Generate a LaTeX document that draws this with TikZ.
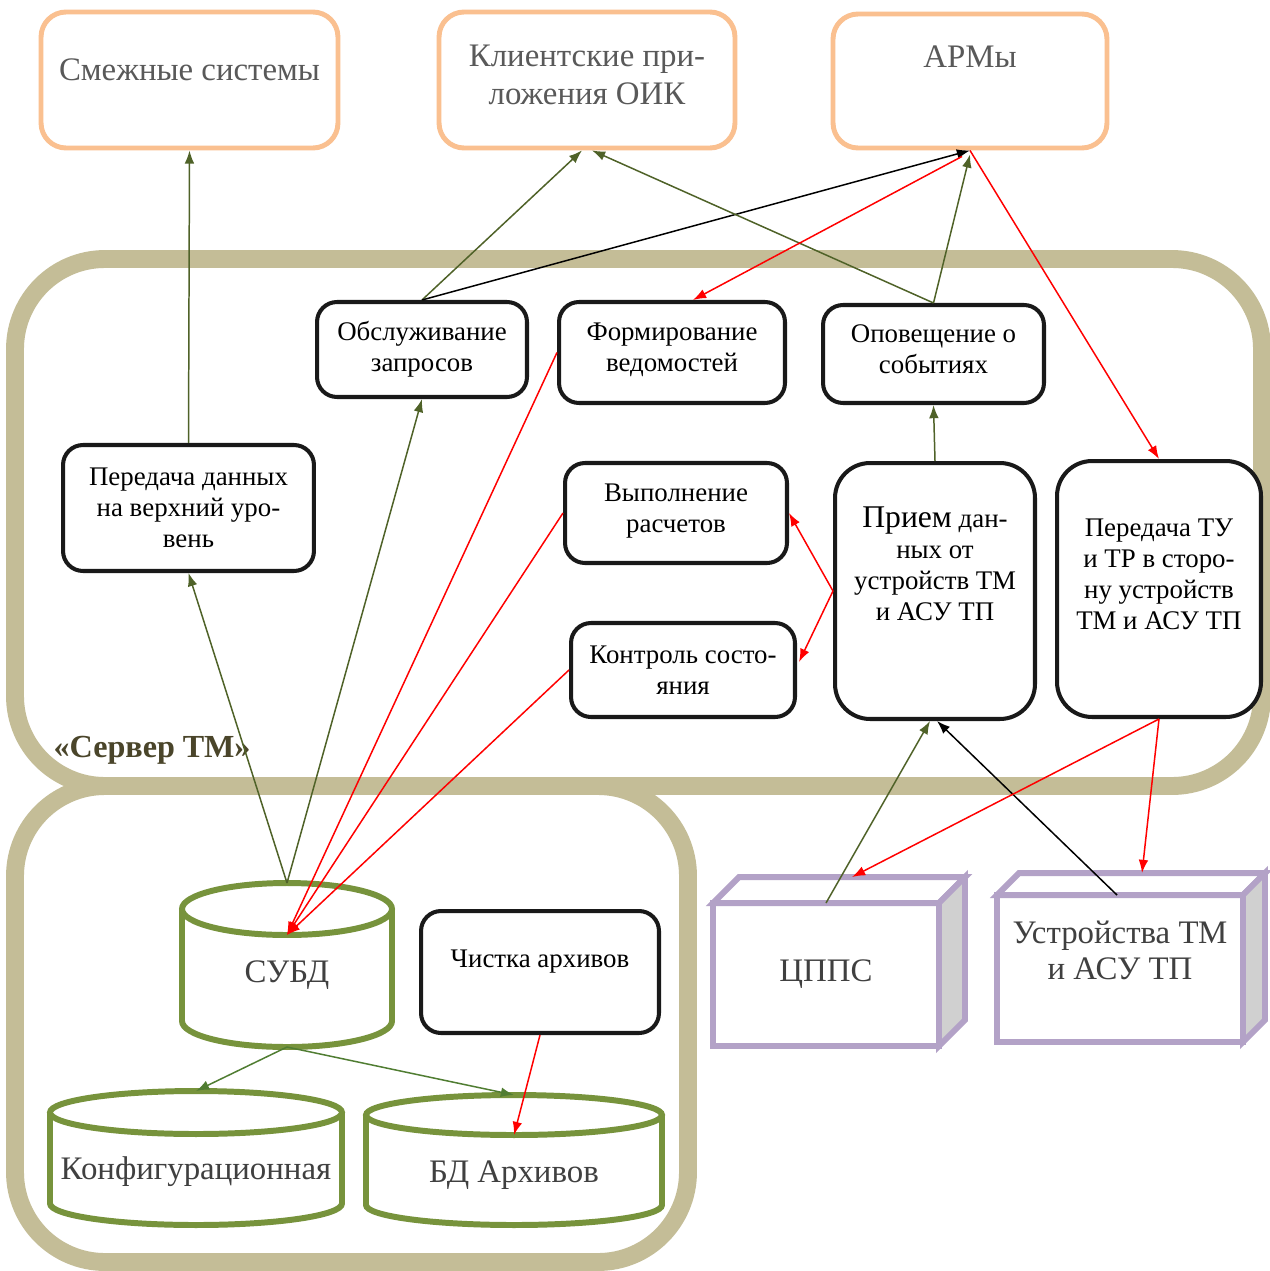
\documentclass[tikz,border=0pt]{standalone}
\usepackage{fontspec}
\setmainfont{Liberation Serif}
\usetikzlibrary{positioning, calc, arrows.meta}

\definecolor{peach}{RGB}{250,192,144}
\definecolor{khaki}{RGB}{196,189,151}
\definecolor{arrowolive}{RGB}{79,98,40}
\definecolor{dbgreen}{RGB}{119,147,60}
\definecolor{dbarrow}{RGB}{80,125,50}
\definecolor{lilac}{RGB}{179,162,199}
\definecolor{sidegray}{RGB}{208,208,208}
\definecolor{servtext}{RGB}{74,69,42}
\definecolor{greytext}{RGB}{89,89,89}
\definecolor{darktext}{RGB}{64,64,64}

% text sitting higher than the middle of its box
\newcommand{\liftup}[2]{\raisebox{0pt}[\height][\dimexpr\depth+#1\relax]{%
  \begin{tabular}{@{}c@{}}#2\end{tabular}}}

\begin{document}
\begin{tikzpicture}[x=0.02cm, y=-0.02cm,
    extbox/.style={draw=peach, line width=2.8pt, rounded corners=0.5cm,
      fill=white, text=greytext, align=center, inner sep=2pt,
      font=\fontsize{18.7pt}{21.5pt}\selectfont},
    task/.style={draw=black!90, line width=2.3pt, rounded corners=0.4cm,
      fill=white, align=center, inner sep=2pt,
      font=\fontsize{15.3pt}{17.6pt}\selectfont},
    tall/.style={task, rounded corners=0.7cm},
    device/.style={draw=lilac, line width=3.4pt, fill=white, text=darktext,
      align=center, inner sep=2pt, outer sep=0pt,
      font=\fontsize{18.7pt}{20.4pt}\selectfont},
    devface/.style={draw=lilac, line width=3.4pt, line join=miter},
    dbline/.style={draw=dbgreen, line width=3.4pt},
    dbtext/.style={text=darktext, font=\fontsize{18.7pt}{21pt}\selectfont},
    srvframe/.style={draw=khaki, line width=10.2pt, rounded corners=1.8cm},
    dataflow/.style={-{Latex[length=7.5pt,width=5.5pt]}, line width=0.85pt,
      draw=arrowolive},
    redflow/.style={dataflow, draw=red},
    blackflow/.style={dataflow, draw=black},
    dbflow/.style={dataflow, draw=dbarrow}]

  \useasboundingbox (0,0) rectangle (1269,1271);
  \fill[white] (0,0) rectangle (1269,1271);

% CONTAINERS

  \draw[srvframe] (15,786) rectangle (688,1262);
  \draw[srvframe] (15,259) rectangle (1262,786);
  \node[font=\bfseries\fontsize{18.3pt}{20pt}\selectfont, text=servtext]
    (srvlabel) at (152,750) {«Сервер ТМ»};

% UPPER LEVEL

  \node[extbox, minimum width=5.94cm, minimum height=2.72cm] (adjacent)
    at (189.5,80) {\liftup{7.9pt}{Смежные системы}};
  \node[extbox, minimum width=5.92cm, minimum height=2.72cm] (clients)
    at (587,80) {\liftup{2.3pt}{Клиентские при-\\ложения ОИК}};
  \node[extbox, minimum width=5.48cm, minimum height=2.68cm] (arms)
    at (970,81) {\liftup{23.8pt}{АРМы}};

% SERVER TASKS

  \node[task, minimum width=4.2cm, minimum height=1.9cm] (requests)
    at (422,349.5) {Обслуживание\\запросов};
  \node[task, minimum width=4.52cm, minimum height=2.02cm] (reports)
    at (672,352.5) {\liftup{3.4pt}{Формирование\\ведомостей}};
  \node[task, minimum width=4.42cm, minimum height=1.96cm] (events)
    at (933.5,354) {\liftup{2.3pt}{Оповещение о\\событиях}};
  \node[task, minimum width=5.02cm, minimum height=2.52cm] (upload)
    at (188.5,508) {Передача данных\\на верхний уро-\\вень};
  \node[task, minimum width=4.44cm, minimum height=2.0cm] (compute)
    at (676,513) {\liftup{2.3pt}{Выполнение\\расчетов}};
  \node[task, minimum width=4.48cm, minimum height=1.88cm] (monitor)
    at (683,670) {Контроль состо-\\яния};
  \node[tall, minimum width=4.0cm, minimum height=5.12cm] (receive)
    at (935,591) {\liftup{26.1pt}{{\fontsize{18pt}{17.6pt}\selectfont Прием}
    дан-\\ных от\\устройств ТМ\\и АСУ ТП}};
  \node[tall, minimum width=4.08cm, minimum height=5.12cm] (control)
    at (1159,589) {\liftup{13.6pt}{Передача ТУ\\и ТР в сторо-\\ну устройств\\ТМ и АСУ ТП}};
  \node[task, minimum width=4.76cm, minimum height=2.44cm] (cleanup)
    at (540,972) {\liftup{12.5pt}{Чистка архивов}};

% DATABASES

  \foreach \n/\cx/\yt/\yb/\rx/\ry/\ty/\t in {
      subd/287/909/1021/105/26/975/СУБД,
      configdb/196/1112.5/1203.5/146/21.5/1172/Конфигурационная,
      archdb/514/1115/1205/148/20/1175/БД Архивов}{
    \draw[dbline] (\cx-\rx,\yt) -- (\cx-\rx,\yb)
      arc[start angle=180, end angle=0, x radius=\rx, y radius=\ry]
      -- (\cx+\rx,\yt);
    \draw[dbline] (\cx,\yt) ellipse [x radius=\rx, y radius=\ry];
    \coordinate (\n-top) at (\cx,\yt-\ry);
    \coordinate (\n-lid) at (\cx,\yt+\ry);
    \coordinate (\n-base) at (\cx,\yb+\ry);
    \node[dbtext] (\n) at (\cx,\ty) {\t};
  }

% DEVICES

  \node[device, minimum width=4.52cm, minimum height=2.86cm] (cpps)
    at (826,974.5) {ЦППС};
  \draw[devface, fill=white] (cpps.north west) -- ++(26,-26) -- ++(226,0)
    -- (cpps.north east) -- cycle;
  \draw[devface, fill=sidegray] (cpps.north east) -- ++(26,-26) -- ++(0,143)
    -- (cpps.south east) -- cycle;

  \node[device, minimum width=4.92cm, minimum height=2.94cm] (devices)
    at (1120,968.5) {\liftup{15.9pt}{Устройства ТМ\\и АСУ ТП}};
  \draw[devface, fill=white] (devices.north west) -- ++(22,-22) -- ++(246,0)
    -- (devices.north east) -- cycle;
  \draw[devface, fill=sidegray] (devices.north east) -- ++(22,-22) -- ++(0,147)
    -- (devices.south east) -- cycle;

% CONNECTIONS

  \draw[dataflow] (upload.north) -- (adjacent.south);
  \draw[dataflow] (requests.north) -- ($(clients.south)+(-5,0)$);
  \draw[blackflow] (requests.north) -- (arms.south);
  \draw[dataflow] (events.north) -- ($(clients.south)+(5,0)$);
  \draw[dataflow] (events.north) -- ($(arms.south)+(0,4)$);
  \draw[redflow] ($(arms.south)+(-8,6)$) -- ($(reports.north)+(21,0)$);
  \draw[redflow] (arms.south) -- (control.north);
  \draw[dataflow] (receive.north) -- (events.south);
  \draw[redflow] (receive.west) -- (compute.east);
  \draw[redflow] (receive.west) -- ($(monitor.east)+(2,-8)$);

  \draw[dataflow] (subd-top) -- (upload.south);
  \draw[dataflow] (subd-top) -- (requests.south);
  \foreach \s in {reports, compute, monitor}
    \draw[redflow] (\s.west) -- (subd-lid);
  \draw[dbflow] (subd-base) -- (configdb-top);
  \draw[dbflow] (subd-base) -- (archdb-top);
  \draw[redflow] (cleanup.south) -- (archdb-lid);

  \draw[dataflow] (cpps.north) -- ($(receive.south)+(-5,0)$);
  \draw[blackflow] ($(devices.north)+(-3,0)$) -- ($(receive.south)+(2,0)$);
  \draw[redflow] (control.south) -- ($(cpps.north)+(26,-26)$);
  \draw[redflow] (control.south) -- ($(devices.north)+(22,-22)$);

\end{tikzpicture}
\end{document}
